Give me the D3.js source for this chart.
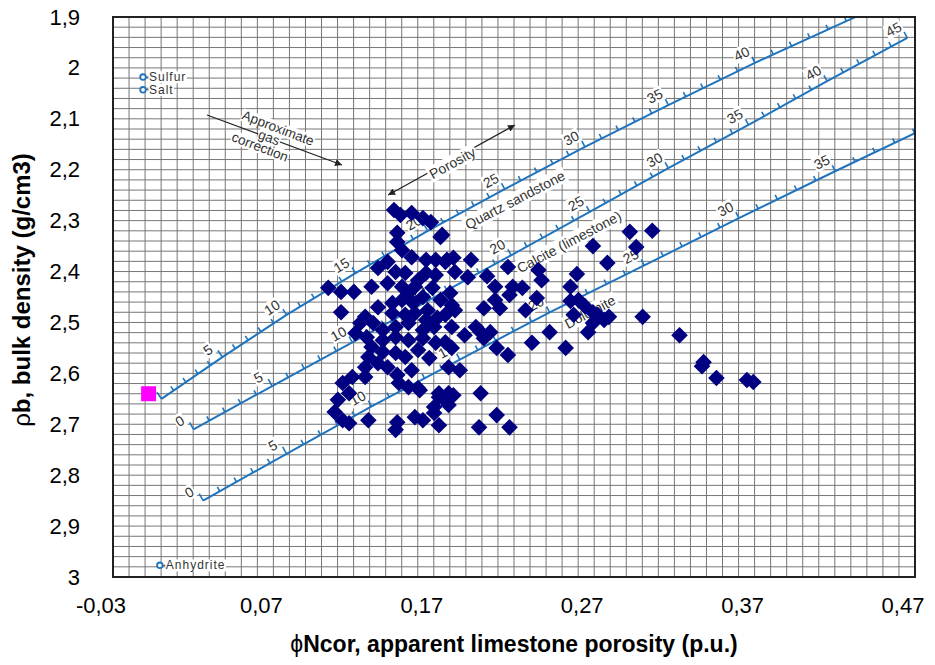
<!DOCTYPE html>
<html><head><meta charset="utf-8">
<script src="https://cdn.jsdelivr.net/npm/d3@7"></script>
<style>body{margin:0;background:#fff} svg{display:block;font-family:Arial,"Liberation Sans",sans-serif}</style>
</head><body><svg id="c" width="935" height="665"></svg>
<script>
// ---------- axis ticks ----------
const xTicks = [-0.03, 0.07, 0.17, 0.27, 0.37, 0.47];
const yTicks = [1.9, 2.0, 2.1, 2.2, 2.3, 2.4, 2.5, 2.6, 2.7, 2.8, 2.9, 3.0];

// ---------- measured samples (apparent limestone porosity, bulk density) ----------
const phiN = [0.153,0.157,0.164,0.171,0.176,0.155,0.155,0.182,0.158,0.164,
0.173,0.179,0.186,0.190,0.201,0.149,0.143,0.154,0.160,0.173,
0.179,0.191,0.199,0.139,0.149,0.158,0.166,0.112,0.120,0.128,
0.120,0.188,0.135,0.143,0.152,0.158,0.165,0.171,0.152,0.160,
0.166,0.173,0.185,0.191,0.132,0.140,0.146,0.154,0.162,0.171,
0.178,0.129,0.136,0.146,0.154,0.162,0.171,0.179,0.185,0.197,
0.139,0.146,0.154,0.160,0.137,0.135,0.143,0.149,0.187,0.194,
0.127,0.121,0.135,0.125,0.118,0.156,0.162,0.168,0.181,0.187,
0.185,0.116,0.121,0.125,0.137,0.155,0.154,0.166,0.171,0.178,
0.181,0.178,0.183,0.185,0.211,0.216,0.227,0.233,0.225,0.216,
0.219,0.209,0.242,0.235,0.224,0.243,0.245,0.189,0.204,0.207,
0.213,0.209,0.217,0.224,0.189,0.239,0.260,0.250,0.274,0.169,
0.181,0.190,0.187,0.207,0.217,0.206,0.225,0.300,0.314,0.304,
0.277,0.286,0.267,0.263,0.263,0.268,0.272,0.265,0.280,0.284,
0.287,0.277,0.308,0.331,0.346,0.345,0.354,0.373,0.377,0.277,
0.168,0.177,0.162,0.182,0.174,0.180,0.189,0.168,0.175,0.164,0.155];
const rhoB = [2.279,2.289,2.285,2.295,2.303,2.324,2.342,2.332,2.358,2.372,
2.377,2.377,2.377,2.373,2.377,2.381,2.393,2.401,2.403,2.403,
2.407,2.401,2.411,2.430,2.423,2.430,2.430,2.432,2.440,2.440,
2.480,2.442,2.489,2.470,2.462,2.456,2.462,2.450,2.482,2.485,
2.482,2.495,2.485,2.476,2.501,2.501,2.515,2.509,2.501,2.515,
2.509,2.521,2.529,2.535,2.529,2.535,2.531,2.540,2.539,2.525,
2.548,2.558,2.560,2.568,2.568,2.588,2.580,2.588,2.588,2.594,
2.607,2.619,2.607,2.639,2.652,2.619,2.627,2.629,2.639,2.639,
2.652,2.676,2.692,2.698,2.692,2.696,2.711,2.686,2.692,2.666,
2.702,2.678,2.328,2.381,2.409,2.430,2.430,2.432,2.446,2.456,
2.472,2.472,2.452,2.476,2.391,2.397,2.417,2.466,2.509,2.519,
2.519,2.531,2.550,2.564,2.550,2.540,2.550,2.519,2.519,2.633,
2.647,2.643,2.662,2.639,2.682,2.706,2.706,2.322,2.320,2.352,
2.350,2.383,2.405,2.430,2.458,2.456,2.468,2.485,2.485,2.495,
2.489,2.501,2.489,2.525,2.578,2.586,2.609,2.613,2.617,2.480,
2.417,2.432,2.442,2.456,2.476,2.491,2.509,2.554,2.570,2.594,2.603];

// reference point (magenta square)
const refPhiN = [0.0];
const refRhoB = [2.64];

// ---------- lithology lines of the crossplot chart (porosity p.u. -> phiN, rho) ----------
const sandPor  = [0, 5, 10, 15, 20, 25, 30, 35, 40, 45, 46];
const sandPhiN = [0.008, 0.046, 0.086, 0.129, 0.174, 0.222, 0.272, 0.324, 0.378, 0.435, 0.447];
const sandRho  = [2.65, 2.568, 2.485, 2.403, 2.32, 2.238, 2.155, 2.073, 1.99, 1.908, 1.891];
const sandLabels = [5, 10, 15, 20, 25, 30, 35, 40];

const limePor  = [0, 5, 10, 15, 20, 25, 30, 35, 40, 45];
const limePhiN = [0.028, 0.077, 0.127, 0.176, 0.226, 0.275, 0.324, 0.374, 0.423, 0.473];
const limeRho  = [2.71, 2.625, 2.539, 2.454, 2.368, 2.283, 2.197, 2.112, 2.026, 1.941];
const limeLabels = [0, 5, 10, 15, 20, 25, 30, 35, 40, 45];

const dolPor  = [0, 5, 10, 15, 20, 25, 30, 35, 40];
const dolPhiN = [0.034, 0.086, 0.139, 0.194, 0.250, 0.309, 0.368, 0.428, 0.490];
const dolRho  = [2.85, 2.758, 2.665, 2.573, 2.48, 2.388, 2.295, 2.203, 2.11];
const dolLabels = [0, 5, 10, 15, 20, 25, 30, 35];

// minerals
const mineralNames = ["Sulfur", "Salt", "Anhydrite"];
const mineralPhiN = [-0.0035, -0.0035, 0.007];
const mineralRho  = [2.018, 2.043, 2.977];

// ---------- layout ----------
const W = 935, H = 665;
const P = {left: 113, top: 17, right: 915, bottom: 577};
const x = d3.scaleLinear().domain([-0.0222, 0.4778]).range([P.left, P.right]);
const y = d3.scaleLinear().domain([1.9, 3.0]).range([P.top, P.bottom]);
const BLUE = "#1f74bd", INK = "#333";

const svg = d3.select("#c");
svg.append("rect").attr("width", W).attr("height", H).attr("fill", "#fff");
const defs = svg.append("defs");
defs.append("clipPath").attr("id", "clip").append("rect")
  .attr("x", P.left).attr("y", P.top).attr("width", P.right - P.left).attr("height", P.bottom - P.top);
defs.append("marker").attr("id", "ah").attr("viewBox", "0 0 10 10").attr("refX", 10).attr("refY", 5)
  .attr("markerWidth", 9).attr("markerHeight", 7).attr("markerUnits", "userSpaceOnUse")
  .attr("orient", "auto-start-reverse")
  .append("path").attr("d", "M0,0L10,5L0,10z").attr("fill", "#222");

// ---------- grid ----------
const gx = d3.range(51).map(k => x.domain()[0] + k * 0.01);
const gy = d3.range(56).map(k => 1.9 + k * 0.02);
const grid = svg.append("g").attr("stroke", "#767676").attr("stroke-width", 1);
grid.selectAll("line.v").data(gx).join("line").attr("class", "v")
  .attr("x1", d => x(d)).attr("x2", d => x(d)).attr("y1", P.top).attr("y2", P.bottom);
grid.selectAll("line.h").data(gy).join("line").attr("class", "h")
  .attr("y1", d => y(d)).attr("y2", d => y(d)).attr("x1", P.left).attr("x2", P.right);

// ---------- helpers ----------
// lines: [{text, dx, dy}] in the rotated frame; white boxes drawn under all texts
function boxedText(parent, cx, cy, angle, lines, size, opts = {}) {
  const g = parent.append("g").attr("transform", `translate(${cx},${cy}) rotate(${angle})`);
  const pad = opts.pad == null ? 1.5 : opts.pad;
  const texts = lines.map(l => g.append("text").attr("text-anchor", opts.anchor || "middle").attr("dy", "0.35em")
    .attr("x", l.dx || 0).attr("y", l.dy || 0)
    .attr("font-size", size).attr("fill", opts.color || INK)
    .attr("letter-spacing", opts.ls || 0).text(l.text));
  texts.forEach(t => {
    const b = t.node().getBBox();
    g.insert("rect", "text").attr("fill", "#fff")
      .attr("x", b.x - pad).attr("y", b.y - pad + 1.5)
      .attr("width", b.width + 2 * pad).attr("height", b.height + 2 * pad - 3);
  });
  return g;
}

// ---------- lithology lines ----------
const chart = svg.append("g").attr("clip-path", "url(#clip)");
const lithos = [
  {por: sandPor, phi: sandPhiN, rho: sandRho, labels: sandLabels, maxTick: 45},
  {por: limePor, phi: limePhiN, rho: limeRho, labels: limeLabels, maxTick: 45},
  {por: dolPor, phi: dolPhiN, rho: dolRho, labels: dolLabels, maxTick: 39}
];
function pointAt(L, p) {
  let i = 0;
  while (i < L.por.length - 2 && p > L.por[i + 1]) i++;
  const t = (p - L.por[i]) / (L.por[i + 1] - L.por[i]);
  const x0 = x(L.phi[i]), y0 = y(L.rho[i]), x1 = x(L.phi[i + 1]), y1 = y(L.rho[i + 1]);
  const dx = x1 - x0, dy = y1 - y0, len = Math.hypot(dx, dy);
  return {px: x0 + t * dx, py: y0 + t * dy, ux: dx / len, uy: dy / len};
}
const lineGen = d3.line().x(d => x(d[0])).y(d => y(d[1]));
lithos.forEach(L => {
  chart.append("path").attr("d", lineGen(L.phi.map((v, i) => [v, L.rho[i]])))
    .attr("fill", "none").attr("stroke", BLUE).attr("stroke-width", 2);
  d3.range(0, L.maxTick + 1).forEach(p => {
    const q = pointAt(L, p);
    const nx = q.uy, ny = -q.ux;
    const len = p % 5 === 0 ? 8 : 5;
    chart.append("line").attr("x1", q.px).attr("y1", q.py)
      .attr("x2", q.px + nx * len).attr("y2", q.py + ny * len)
      .attr("stroke", BLUE).attr("stroke-width", 1.6);
  });
  L.labels.forEach(p => {
    const q = pointAt(L, p);
    const nx = q.uy, ny = -q.ux;
    const ang = Math.atan2(q.uy, q.ux) * 180 / Math.PI;
    boxedText(chart, q.px + nx * 14 - q.ux * 8, q.py + ny * 14 - q.uy * 8, ang, [{text: String(p)}], 14, {pad: 1});
  });
});

// line names
boxedText(chart, x(0.2284), y(2.2595), -27.5, [{text: "Quartz sandstone"}], 14);
boxedText(chart, x(0.2621), y(2.342), -28, [{text: "Calcite (limestone)"}], 14);
boxedText(chart, x(0.2752), y(2.4796), -28, [{text: "Dolomite"}], 14);

// porosity arrow
chart.append("line").attr("x1", x(0.1493)).attr("y1", y(2.2497)).attr("x2", x(0.2284)).attr("y2", y(2.1122))
  .attr("stroke", "#222").attr("stroke-width", 1.2)
  .attr("marker-start", "url(#ah)").attr("marker-end", "url(#ah)");
boxedText(chart, x(0.1894), y(2.1868), -29, [{text: "Porosity"}], 14);

// gas correction arrow
chart.append("line").attr("x1", x(0.0364)).attr("y1", y(2.0925)).attr("x2", x(0.1206)).attr("y2", y(2.1908))
  .attr("stroke", "#222").attr("stroke-width", 1.2).attr("marker-end", "url(#ah)");
const gasLines = ["Approximate", "gas", "correction"];
boxedText(chart, x(0.0807), y(2.118), 21,
  gasLines.map((s, i) => ({text: s, dx: -5 * i, dy: 12 * i})), 13.5, {pad: 0.5});

// minerals
mineralNames.forEach((m, i) => {
  const cx = x(mineralPhiN[i]), cy = y(mineralRho[i]);
  chart.append("line").attr("x1", cx).attr("x2", cx + 6).attr("y1", cy).attr("y2", cy).attr("stroke", INK).attr("stroke-width", 1);
  boxedText(chart, cx + 6, cy, 0, [{text: m}], 12, {anchor: "start", pad: 0.5, ls: 1});
  chart.append("circle").attr("cx", cx).attr("cy", cy).attr("r", 2.8)
    .attr("fill", "#fff").attr("stroke", BLUE).attr("stroke-width", 1.8);
});

// ---------- frame ----------
svg.append("rect").attr("x", P.left).attr("y", P.top).attr("width", P.right - P.left).attr("height", P.bottom - P.top)
  .attr("fill", "none").attr("stroke", "#222").attr("stroke-width", 2);

// ---------- data points ----------
svg.append("g").selectAll("path").data(d3.range(phiN.length)).join("path")
  .attr("transform", i => `translate(${x(phiN[i])},${y(rhoB[i])})`)
  .attr("d", "M0,-8.3L8.3,0L0,8.3L-8.3,0Z").attr("fill", "#000080");
svg.append("g").selectAll("rect").data(d3.range(refPhiN.length)).join("rect")
  .attr("x", i => x(refPhiN[i]) - 7.5).attr("y", i => y(refRhoB[i]) - 7.5)
  .attr("width", 15).attr("height", 15).attr("fill", "#ff00ff");

// ---------- axes ----------
const loc = d3.formatLocale({decimal: ",", thousands: ".", grouping: [3], currency: ["", ""], minus: "-"});
const xAxis = d3.axisBottom(x).tickValues(xTicks).tickFormat(loc.format(".2f")).tickSize(0).tickPadding(20);
const yAxis = d3.axisLeft(y).tickValues(yTicks).tickFormat(loc.format("~g")).tickSize(0).tickPadding(33);
const ax = svg.append("g").attr("transform", `translate(0,${P.bottom})`).call(xAxis);
const ay = svg.append("g").attr("transform", `translate(${P.left},0)`).call(yAxis);
[ax, ay].forEach(a => {
  a.select(".domain").remove();
  a.selectAll("text").attr("font-size", 22).attr("font-family", "Arial, 'Liberation Sans', sans-serif").attr("fill", "#000");
});

// titles
const xt = svg.append("text").attr("x", 514).attr("y", 652).attr("text-anchor", "middle")
  .attr("font-size", 23).attr("font-weight", "bold").attr("fill", "#000");
xt.append("tspan").attr("font-weight", "normal").text("ϕ");
xt.append("tspan").text("Ncor, apparent limestone porosity (p.u.)");
const yt = svg.append("text").attr("transform", `translate(30,290) rotate(-90)`).attr("text-anchor", "middle")
  .attr("font-size", 24).attr("font-weight", "bold").attr("fill", "#000");
yt.append("tspan").attr("font-weight", "normal").text("ρ");
yt.append("tspan").text("b, bulk density (g/cm3)");
</script>
</body></html>
